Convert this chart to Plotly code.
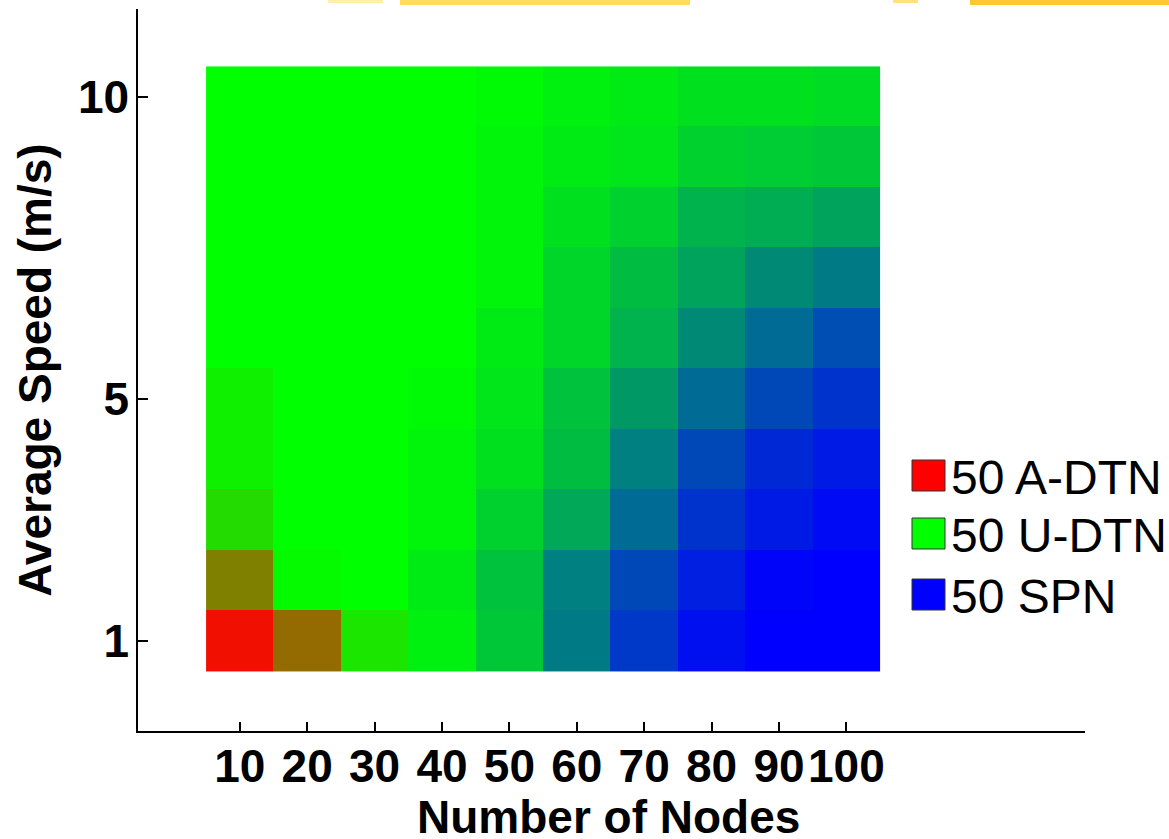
import numpy as np
import plotly.graph_objects as go

# Number of nodes (columns) and average speed (rows, 1..10 m/s)
nodes = [10, 20, 30, 40, 50, 60, 70, 80, 90, 100]
speeds = [1, 2, 3, 4, 5, 6, 7, 8, 9, 10]
x_tick_labels = ["10", "20", "30", "40", "50", "60", "70", "80", "90", "100"]
y_tick_vals = [1, 5, 10]
y_tick_labels = ["1", "5", "10"]
runs = 50
series_names = ["50 A-DTN", "50 U-DTN", "50 SPN"]
x_title = "Number of Nodes"
y_title = "Average Speed (m/s)"

# Number of runs (out of 50) in which each scheme is selected; rows = speed 1..10
a_dtn = [
    [47, 29, 5, 0, 0, 0, 0, 0, 0, 0],
    [25, 1, 0, 0, 0, 0, 0, 0, 0, 0],
    [7, 0, 0, 0, 0, 0, 0, 0, 0, 0],
    [3, 0, 0, 0, 0, 0, 0, 0, 0, 0],
    [3, 0, 0, 0, 0, 0, 0, 0, 0, 0],
    [0, 0, 0, 0, 0, 0, 0, 0, 0, 0],
    [0, 0, 0, 0, 0, 0, 0, 0, 0, 0],
    [0, 0, 0, 0, 0, 0, 0, 0, 0, 0],
    [0, 0, 0, 0, 0, 0, 0, 0, 0, 0],
    [0, 0, 0, 0, 0, 0, 0, 0, 0, 0],
]
u_dtn = [
    [3, 21, 45, 47, 39, 24, 11, 3, 0, 0],
    [25, 49, 50, 46, 38, 25, 14, 6, 1, 0],
    [43, 50, 50, 48, 41, 33, 21, 10, 5, 2],
    [47, 50, 50, 48, 44, 37, 25, 14, 8, 5],
    [47, 50, 50, 49, 45, 38, 30, 21, 14, 10],
    [50, 50, 50, 50, 46, 42, 35, 27, 21, 15],
    [50, 50, 50, 50, 48, 42, 37, 32, 27, 24],
    [50, 50, 50, 50, 48, 44, 41, 35, 34, 32],
    [50, 50, 50, 50, 48, 46, 45, 41, 40, 39],
    [50, 50, 50, 50, 49, 47, 46, 44, 44, 43],
]
spn = [
    [0, 0, 0, 3, 11, 26, 39, 47, 50, 50],
    [0, 0, 0, 4, 12, 25, 36, 44, 49, 50],
    [0, 0, 0, 2, 9, 17, 29, 40, 45, 48],
    [0, 0, 0, 2, 6, 13, 25, 36, 42, 45],
    [0, 0, 0, 1, 5, 12, 20, 29, 36, 40],
    [0, 0, 0, 0, 4, 8, 15, 23, 29, 35],
    [0, 0, 0, 0, 2, 8, 13, 18, 23, 26],
    [0, 0, 0, 0, 2, 6, 9, 15, 16, 18],
    [0, 0, 0, 0, 2, 4, 5, 9, 10, 11],
    [0, 0, 0, 0, 1, 3, 4, 6, 6, 7],
]

# RGB image: red = A-DTN share, green = U-DTN share, blue = SPN share
rgb = np.stack([np.array(a_dtn), np.array(u_dtn), np.array(spn)], axis=-1) * 255.0 / runs

FONT = "Liberation Sans, Arial, sans-serif"

fig = go.Figure()
fig.add_trace(go.Image(
    z=rgb, colormodel="rgb",
    x0=nodes[0], dx=nodes[1] - nodes[0],
    y0=speeds[0], dy=speeds[1] - speeds[0],
    hoverinfo="skip",
))

W, H = 1169, 839
ml, mr, mt, mb = 138, 84, 9, 108
pw, ph = W - ml - mr, H - mt - mb

def px(xp):
    return (xp - ml) / pw

def py(yp):
    return (H - mb - yp) / ph

shapes = []
annotations = []
legend_colors = ["#FF0000", "#00FF00", "#0000FF"]
legend_box_top = [460, 518, 579]
for name, col, top in zip(series_names, legend_colors, legend_box_top):
    shapes.append(dict(type="rect", xref="paper", yref="paper",
                       x0=px(912), x1=px(945), y0=py(top + 31), y1=py(top),
                       fillcolor=col, line=dict(color="#333333", width=1)))
    annotations.append(dict(xref="paper", yref="paper", x=px(949), y=py(top + 17),
                            xanchor="left", yanchor="middle", showarrow=False,
                            text=name, font=dict(family=FONT, size=48, color="black")))

# x-axis title placed as in the reference (below the tick labels, near the bottom edge)
annotations.append(dict(xref="paper", yref="paper", x=px(608), y=py(817),
                        xanchor="center", yanchor="middle", showarrow=False,
                        text=x_title,
                        font=dict(family=FONT, size=46, weight="bold", color="black")))

# decorative yellow brush strokes along the top edge (slide background)
for x0s, x1s, hh, c in [(328, 383, 3, "#FFEFA8"), (400, 690, 5, "#FFDB60"),
                        (893, 918, 3, "#FFE27A"), (970, 1169, 5, "#FFC830")]:
    shapes.append(dict(type="rect", xref="paper", yref="paper",
                       x0=px(x0s), x1=px(x1s), y0=py(hh), y1=py(0),
                       fillcolor=c, line=dict(width=0), layer="below"))

fig.update_layout(
    width=W, height=H,
    margin=dict(l=ml, r=mr, t=mt, b=mb, autoexpand=False),
    paper_bgcolor="white", plot_bgcolor="white",
    showlegend=False,
    shapes=shapes, annotations=annotations,
    font=dict(family=FONT, color="black"),
)
fig.update_xaxes(
    range=[-5.1, 135.4], scaleanchor=False, constrain="range", automargin=False,
    tickmode="array", tickvals=nodes, ticktext=x_tick_labels,
    ticks="inside", ticklen=9, tickwidth=1.5, tickcolor="black",
    showline=True, linecolor="black", linewidth=1.5, mirror=False,
    showgrid=False, zeroline=False,
    tickfont=dict(family=FONT, size=46, weight="bold", color="black"),
    ticklabelstandoff=-6,
)
fig.update_yaxes(
    range=[-0.49, 11.45], autorange=False, scaleanchor=False, constrain="range",
    automargin=False,
    tickmode="array", tickvals=y_tick_vals, ticktext=y_tick_labels,
    ticks="inside", ticklen=10, tickwidth=1.5, tickcolor="black",
    showline=True, linecolor="black", linewidth=1.5, mirror=False,
    showgrid=False, zeroline=False,
    tickfont=dict(family=FONT, size=46, weight="bold", color="black"),
    ticklabelstandoff=-2,
    title=dict(text=y_title, standoff=12,
               font=dict(family=FONT, size=46, weight="bold", color="black")),
)

fig.write_html("out.html")
